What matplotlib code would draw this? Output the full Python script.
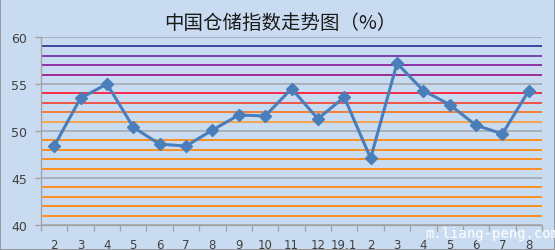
import matplotlib
matplotlib.use("Agg")
import matplotlib.pyplot as plt
from matplotlib.patches import Rectangle

categories = ["2", "3", "4", "5", "6", "7", "8", "9", "10", "11", "12", "19.1",
              "2", "3", "4", "5", "6", "7", "8"]
values = [48.4, 53.5, 55.0, 50.4, 48.6, 48.4, 50.1, 51.7, 51.6, 54.5, 51.3, 53.6,
          47.1, 57.2, 54.3, 52.8, 50.6, 49.7, 54.3]

band_levels = [41, 42, 43, 44, 46, 47, 48, 49, 51, 52, 53, 54, 56, 57, 58, 59]
band_colors = ["#ff8a12", "#ff8a12", "#ff8a12", "#ff8a12",
               "#ff8a12", "#ff8a12", "#ff8a12", "#ff8a12",
               "#f9a040", "#f5782a", "#f24a3a", "#ff1e3c",
               "#9a1f8e", "#8a22a0", "#7038a8", "#2e3a9a"]
yticks = [40, 45, 50, 55, 60]

bg = "#c9dbf1"
plt.rcParams['font.family'] = ['Noto Sans CJK SC', 'DejaVu Sans']

fig = plt.figure(figsize=(5.55, 2.51), dpi=100, facecolor=bg)
fig.patches.append(Rectangle((0, 0), 1, 1, transform=fig.transFigure,
                             fill=False, edgecolor="#8c8c8c", linewidth=1.2))
ax = fig.add_axes([0.0739, 0.0996, 0.9027, 0.749])
ax.set_facecolor(bg)

for lv, c in zip(band_levels, band_colors):
    ax.axhline(lv, color=c, linewidth=1.3, zorder=1)
for lv in yticks:
    ax.axhline(lv, color="#a8adb5", linewidth=1.3, zorder=1)

x = list(range(len(categories)))
ax.plot(x, values, color="#4a7ebb", linewidth=2.2, marker="D", markersize=6.5,
        zorder=3)

ax.set_xlim(-0.5, len(categories) - 0.5)
ax.set_ylim(40, 60)
ax.set_yticks(yticks)
ax.set_yticklabels([str(v) for v in yticks], fontsize=9, color="#404040",
                   family="DejaVu Sans")
ax.set_xticks(x)
ax.set_xticklabels(categories, fontsize=8.5, color="#404040", family="DejaVu Sans")
ax.set_xticks([i - 0.5 for i in range(len(categories) + 1)], minor=True)
ax.tick_params(axis="x", which="major", length=0, pad=9)
ax.tick_params(axis="x", which="minor", length=4, color="#a0a0a0", width=0.9)
ax.tick_params(axis="y", length=4, color="#a0a0a0", width=0.9, pad=6)

for s in ["top", "right"]:
    ax.spines[s].set_visible(False)
for s in ["left", "bottom"]:
    ax.spines[s].set_color("#a0a0a0")
    ax.spines[s].set_linewidth(0.9)

fig.text(0.505, 0.905, "中国仓储指数走势图（%）", ha="center", va="center",
         fontsize=14, color="#1a1a1a")
fig.text(0.766, 0.068, "m.liang-peng.com", ha="left", va="center",
         fontsize=10, color="white", family="DejaVu Sans Mono")

fig.savefig("out.png", dpi=100, facecolor=bg)
